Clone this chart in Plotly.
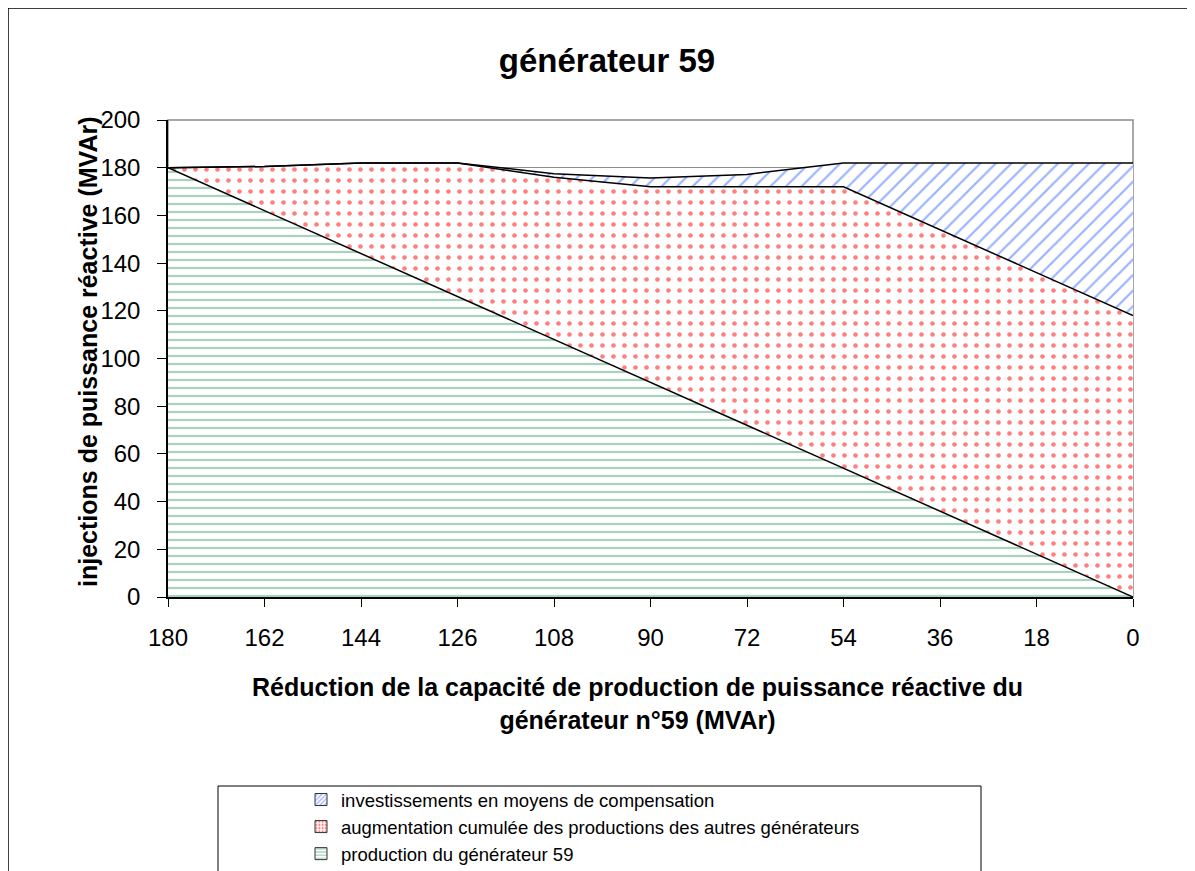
import plotly.graph_objects as go

# réduction de capacité du générateur 59 (MVAr), axe inversé
reduction = [180, 162, 144, 126, 108, 90, 72, 54, 36, 18, 0]

# séries empilées (MVAr)
production_g59 = [180, 162, 144, 126, 108, 90, 72, 54, 36, 18, 0]
augmentation_autres = [0, 18.5, 38, 56, 68, 82, 100, 118, 118, 118, 118]
investissements = [0, 0, 0, 0, 1.5, 3.7, 5.2, 10, 28, 46, 64]

y_ticks = [0, 20, 40, 60, 80, 100, 120, 140, 160, 180, 200]

FONT = "Liberation Sans, Arial, sans-serif"

# motifs de remplissage (vert, rouge, bleu)
pat_vert = dict(shape="-", fgcolor="#4fa67a", bgcolor="white", size=8, solidity=0.28)
pat_rouge = dict(shape=".", fgcolor="#ff0000", bgcolor="white", size=11, solidity=0.14)
pat_bleu = dict(shape="/", fgcolor="#3366ff", bgcolor="white", size=11, solidity=0.2)

series = [
    ("production du générateur 59", production_g59, pat_vert),
    ("augmentation cumulée des productions des autres générateurs", augmentation_autres, pat_rouge),
    ("investissements en moyens de compensation", investissements, pat_bleu),
]

fig = go.Figure()

for nom, vals, pat in series:
    fig.add_trace(go.Scatter(
        x=reduction, y=vals, name=nom, stackgroup="s", mode="lines",
        line=dict(color="black", width=1.5), fillcolor="white",
        fillpattern=pat, showlegend=False,
    ))

# entrées de légende (petits carrés à motif)
for nom, vals, pat in series:
    fig.add_trace(go.Bar(
        x=[None], y=[None], name=nom,
        marker=dict(color="white", pattern=dict(shape=pat["shape"], fgcolor=pat["fgcolor"],
                                                bgcolor="white", size=4, solidity=0.4),
                    line=dict(color="#333333", width=1)),
    ))

# la page ajoute 8 px de marge : on travaille en coordonnées de la référence
OFF = 8
W, H = 1195 - OFF, 871 - OFF
L, R, T, B = 168 - OFF, 1133 - OFF, 120 - OFF, 597 - OFF
pw, ph = R - L, B - T


def px_x(p):
    return (p - OFF - L) / pw


def px_y(p):
    return (B - (p - OFF)) / ph


def cont_y(p):
    return 1 - (p - OFF) / H


shapes = [
    # cadre du graphique
    dict(type="rect", xref="paper", yref="paper", x0=px_x(8), x1=px_x(1220),
         y0=px_y(900), y1=px_y(8), line=dict(color="black", width=1.5), layer="below"),
    # cadre de la zone de tracé
    dict(type="rect", xref="paper", yref="paper", x0=0, x1=1, y0=0, y1=1,
         line=dict(color="#8c8c8c", width=1.5), layer="below"),
    # cadre de la légende
    dict(type="rect", xref="paper", yref="paper", x0=px_x(218), x1=px_x(981),
         y0=px_y(900), y1=px_y(786), line=dict(color="black", width=1), layer="below"),
]

annotations = [
    dict(text="<b>injections de puissance réactive (MVAr)</b>", xref="paper", yref="paper",
         x=px_x(88), y=px_y(352), xanchor="center", yanchor="middle", textangle=-90,
         showarrow=False, font=dict(size=25, color="black", family=FONT)),
    dict(text="<b>Réduction de la capacité de production de puissance réactive du<br>générateur n°59 (MVAr)</b>",
         xref="paper", yref="paper", x=px_x(637), y=px_y(703), xanchor="center", yanchor="middle",
         showarrow=False, font=dict(size=25, color="black", family=FONT)),
]

fig.update_layout(
    width=W, height=H,
    margin=dict(l=L, r=W - R, t=T, b=H - B, autoexpand=False),
    paper_bgcolor="white", plot_bgcolor="white",
    font=dict(family=FONT, color="black"),
    title=dict(text="<b>générateur 59</b>", x=(607 - OFF) / W, xanchor="center",
               y=1 - (60 - OFF) / H, yanchor="middle", font=dict(size=33, color="black", family=FONT)),
    xaxis=dict(range=[180, 0], tickvals=reduction, ticks="outside", ticklen=8,
               tickcolor="black", showline=True, linecolor="black", linewidth=1.5,
               showgrid=False, zeroline=False, tickfont=dict(size=24),
               ticklabelstandoff=10),
    yaxis=dict(range=[0, 200], tickvals=y_ticks, ticks="outside", ticklen=9,
               tickcolor="black", showline=True, linecolor="black", linewidth=1.5,
               showgrid=True, gridcolor="#8c8c8c", gridwidth=1, zeroline=False,
               tickfont=dict(size=24), ticklabelstandoff=12),
    showlegend=True,
    legend=dict(x=px_x(301), y=cont_y(781), xanchor="left", yanchor="top", yref="container",
                traceorder="reversed", font=dict(size=18.5, color="black"),
                bgcolor="rgba(0,0,0,0)", itemwidth=30, tracegroupgap=0),
    shapes=shapes,
    annotations=annotations,
)

fig.write_html("out.html")
